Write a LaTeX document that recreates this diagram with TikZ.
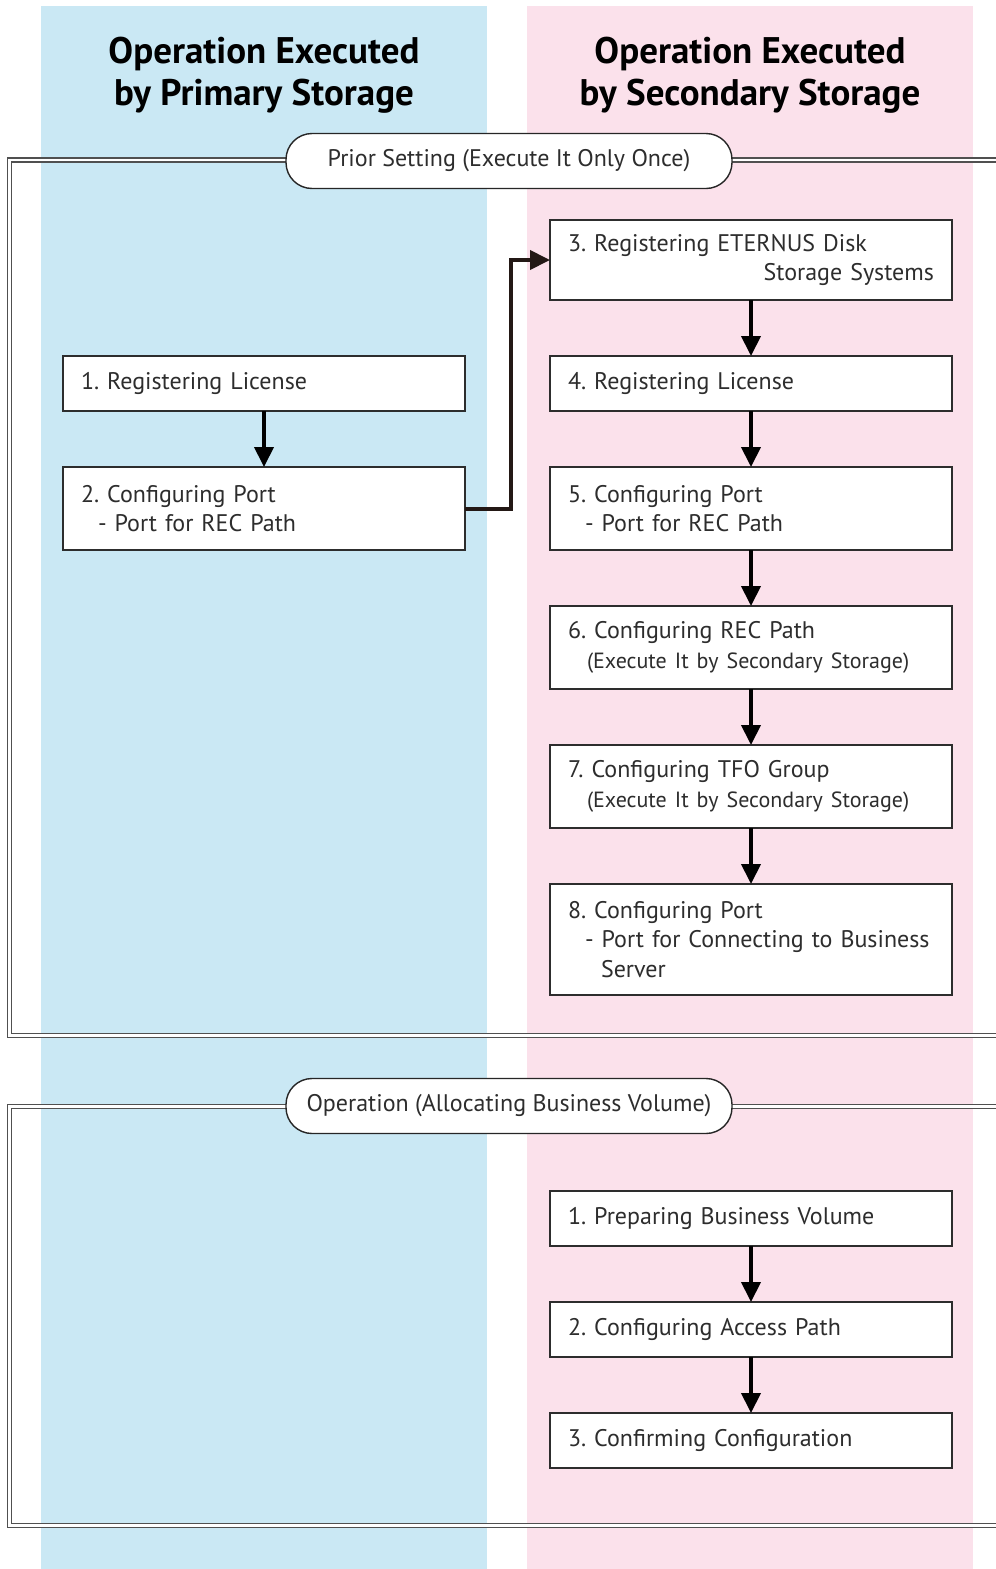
\documentclass[tikz,border=0pt]{standalone}
\usepackage{fontspec}
\setmainfont{PT Sans}
\frenchspacing
\definecolor{PrimaryBlue}{RGB}{202,232,244}
\definecolor{SecondaryPink}{RGB}{251,225,235}
\definecolor{FrameGray}{RGB}{80,80,80}
\definecolor{BoxText}{RGB}{45,45,45}
\definecolor{LinkBrown}{RGB}{35,24,21}
\usetikzlibrary{positioning,arrows.meta}

\begin{document}
\begin{tikzpicture}[x=1pt,y=-1pt,node distance=56pt,
      box/.style={draw=BoxText,line width=1.4pt,fill=white,text=BoxText,outer sep=0pt,
                  text width=366pt,inner xsep=18pt,inner ysep=0pt,align=left,
                  minimum height=55pt,font=\fontsize{24}{29.5}\selectfont},
      twoline/.style={minimum height=83pt},
      threeline/.style={minimum height=111pt},
      pill/.style={draw=black!85,line width=1.4pt,fill=white,text=BoxText,
                   rounded corners=26pt,minimum width=446pt,minimum height=55pt,
                   font=\fontsize{24}{29.5}\selectfont},
      heading/.style={align=center,font=\bfseries\fontsize{37}{42}\selectfont},
      frame/.style={draw=FrameGray,line width=1.8pt,double=white,double distance=2.2pt},
      arrow/.style={-{Triangle[length=20pt,width=19pt]},line width=4pt,draw=black},
      link/.style={-{Triangle[length=20pt,width=19pt]},line width=4pt,draw=LinkBrown}]
    \useasboundingbox (0,0) rectangle (996,1569);
    \fill[white] (0,0) rectangle (996,1569);
    % columns
    \fill[PrimaryBlue] (41,6) rectangle (487,1569);
    \fill[SecondaryPink] (527,6) rectangle (973,1569);
    \node[heading] (headPrimary) at (264,75) {Operation Executed\\by Primary Storage};
    \node[heading] (headSecondary) at (750,75) {Operation Executed\\by Secondary Storage};
    % frames
    \draw[frame] (996,160) -- (9.5,160) -- (9.5,1035.5) -- (996,1035.5);
    \draw[frame] (996,1106.5) -- (9.5,1106.5) -- (9.5,1525.5) -- (996,1525.5);
    \node[pill] (prior) at (509,161) {Prior Setting (Execute It Only Once)};
    \node[pill] (operation) at (509,1106) {Operation (Allocating Business Volume)};
    % prior setting, primary storage
    \node[box,anchor=north west] (license1) at (63,356) {1. Registering License};
    \node[box,twoline,below=of license1] (port2) {2. Configuring Port\\\hspace*{17pt}- Port for REC Path};
    % prior setting, secondary storage
    \node[box,anchor=north west,minimum height=80pt] (eternus3) at (550,220)
        {3. Registering ETERNUS Disk\\\hspace*{\fill}Storage Systems};
    \node[box,below=of eternus3] (license4) {4. Registering License};
    \node[box,twoline,below=of license4] (port5) {5. Configuring Port\\\hspace*{17pt}- Port for REC Path};
    \node[box,twoline,below=of port5] (recpath6)
        {6. Configuring REC Path\\\hspace*{19pt}{\fontsize{22}{29.5}\selectfont(Execute It by Secondary Storage)}};
    \node[box,twoline,below=of recpath6] (tfo7)
        {7. Configuring TFO Group\\\hspace*{19pt}{\fontsize{22}{29.5}\selectfont(Execute It by Secondary Storage)}};
    \node[box,threeline,below=of tfo7] (port8) {8. Configuring Port\\\hspace*{17pt}- Port for Connecting to Business\\\hspace*{33pt}Server};
    \draw[arrow] (license1) -- (port2);
    \draw[link] (port2.east) -- ++(46,0) |- (eternus3.west);
    \draw[arrow] (eternus3) -- (license4);
    \draw[arrow] (license4) -- (port5);
    \draw[arrow] (port5) -- (recpath6);
    \draw[arrow] (recpath6) -- (tfo7);
    \draw[arrow] (tfo7) -- (port8);
    % operation, secondary storage
    \node[box,anchor=north west] (volume1) at (550,1191) {1. Preparing Business Volume};
    \node[box,below=of volume1] (access2) {2. Configuring Access Path};
    \node[box,below=of access2] (confirm3) {3. Confirming Configuration};
    \draw[arrow] (volume1) -- (access2);
    \draw[arrow] (access2) -- (confirm3);
  \end{tikzpicture}
\end{document}
